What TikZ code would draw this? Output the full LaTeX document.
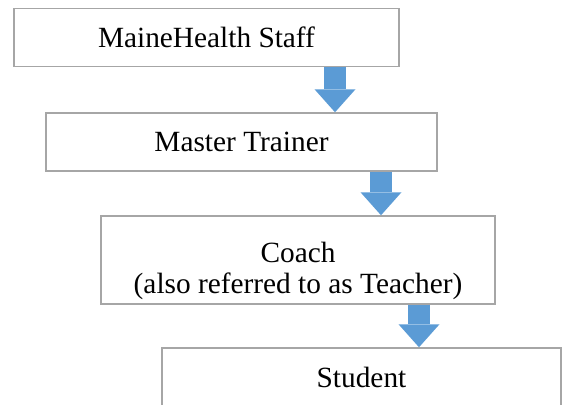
\documentclass[tikz,border=0pt]{standalone}
\usepackage{fontspec}
\setmainfont{Liberation Serif}
\usepackage{xcolor}
\usepackage{tikz}
\usetikzlibrary{arrows.meta}
\definecolor{edge}{HTML}{A6A6A6}
\definecolor{flowblue}{HTML}{5B9BD5}
\definecolor{ink}{HTML}{000000}
\tikzset{
  box/.style={draw=edge, line width=1.1pt, fill=white, inner sep=0pt, text=ink, font=\fontsize{22}{23.5}\selectfont},
  lab/.style={text=ink, font=\fontsize{22}{23.5}\selectfont, align=center, inner sep=0pt},
  flow/.style={draw=flowblue, line width=16.5pt,
    -{Triangle[width=30.75pt, length=17.25pt, line width=0pt]}}
}

\begin{document}
\begin{tikzpicture}[x=0.75pt, y=-0.75pt]
  \useasboundingbox (0,0) rectangle (566,404);
  \clip (0,0) rectangle (566,404);
  % the four levels, top to bottom
  \node[box, minimum width=288.75pt, minimum height=43.5pt] (staff) at (206.5,37.5) {MaineHealth Staff};
  \node[box, minimum width=293.25pt, minimum height=43.5pt] (trainer) at (241.5,142) {Master Trainer};
  \node[box, minimum width=295.5pt, minimum height=66pt] (coach) at (298,260) {};
  \node[lab] (coachtext) at (298,271) {Coach\\(also referred to as Teacher)};
  \node[box, minimum width=299.25pt, minimum height=43.5pt] (student) at (361.5,377) {Student};
  % block arrows between levels
  \draw[flow] (staff.south -| 335,0) -- (trainer.north -| 335,0);
  \draw[flow] (trainer.south -| 381,0) -- (coach.north -| 381,0);
  \draw[flow] (coach.south -| 419,0) -- (student.north -| 419,0);
\end{tikzpicture}
\end{document}
